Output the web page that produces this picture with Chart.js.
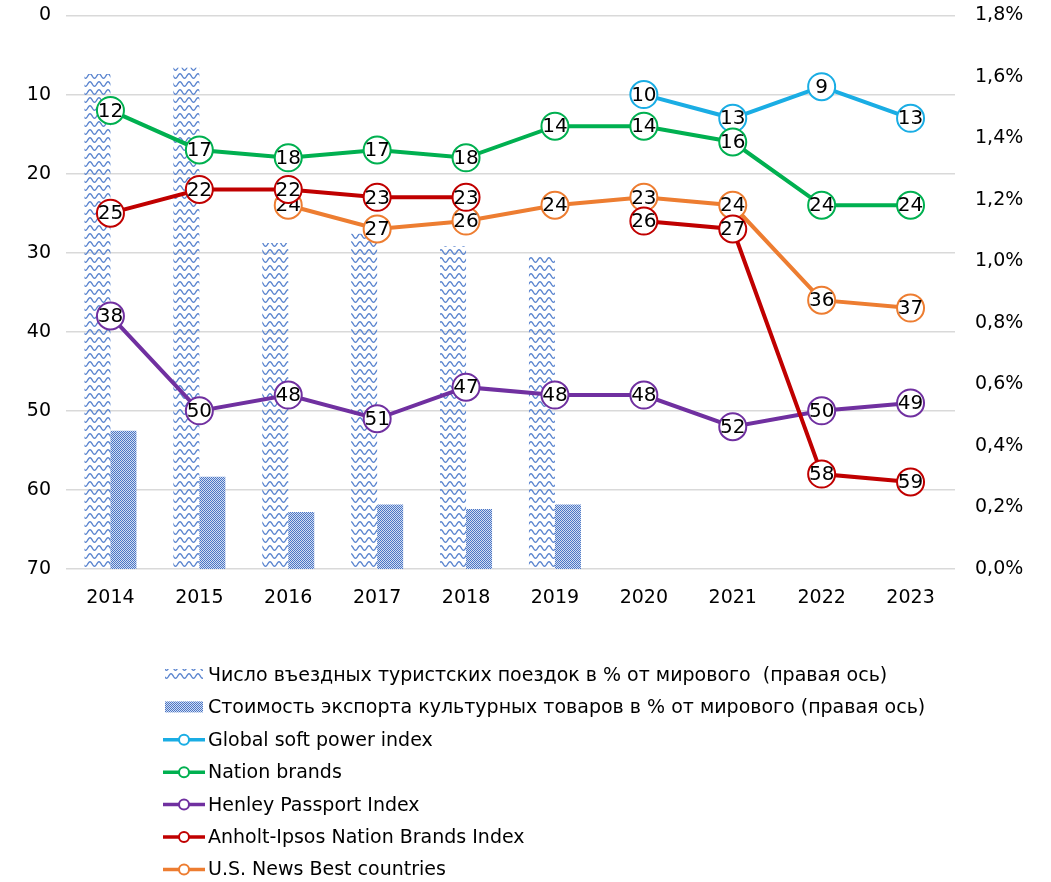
<!DOCTYPE html>
<html lang="ru">
<head>
<meta charset="utf-8">
<title>Индексы мягкой силы</title>
<script src="https://cdn.jsdelivr.net/npm/chart.js@4.4.1/dist/chart.umd.min.js"></script>
<style>
    html, body { margin: 0; padding: 0; background: #fff; }
    #wrap { position: relative; width: 1051px; height: 882px; }
</style>
</head>
<body>
<div id="wrap"><canvas id="softPowerChart"></canvas></div>
<script>
// Data
const years = ['2014', '2015', '2016', '2017', '2018', '2019', '2020', '2021', '2022', '2023'];

// right axis, % of world
const tourismShare = [1.61, 1.63, 1.06, 1.09, 1.05, 1.02, null, null, null, null];
const exportShare = [0.45, 0.30, 0.185, 0.21, 0.195, 0.21, null, null, null, null];

// left axis, rank (reversed)
const globalSoftPower = [null, null, null, null, null, null, 10, 13, 9, 13];
const nationBrands = [12, 17, 18, 17, 18, 14, 14, 16, 24, 24];
const henleyPassport = [38, 50, 48, 51, 47, 48, 48, 52, 50, 49];
const anholtIpsos = [25, 22, 22, 23, 23, null, 26, 27, 58, 59];
const usNewsBest = [null, null, 24, 27, 26, 24, 23, 24, 36, 37];

const rankTicks = { min: 0, max: 70, step: 10 };
const shareTicks = { min: 0, max: 1.8, step: 0.2 };

const FONT = "'DejaVu Sans', Verdana, sans-serif";

document.addEventListener('DOMContentLoaded', function() {
    // Excel-like fill patterns
    function wavePattern() {
        const c = document.createElement('canvas');
        c.width = 9; c.height = 8;
        const g = c.getContext('2d');
        g.strokeStyle = '#5b85cf';
        g.lineWidth = 1.4;
        g.beginPath();
        for (let x = -1; x <= 10; x += 0.5) {
            const y = 4 - 2.2 * Math.cos(2 * Math.PI * x / 9);
            if (x === -1) g.moveTo(x, y); else g.lineTo(x, y);
        }
        g.stroke();
        return g.createPattern(c, 'repeat');
    }

    function checkerPattern() {
        const c = document.createElement('canvas');
        c.width = 2; c.height = 2;
        const g = c.getContext('2d');
        g.fillStyle = '#d3ddf1';
        g.fillRect(0, 0, 2, 2);
        g.fillStyle = '#4a76c6';
        g.fillRect(0, 0, 1, 1);
        g.fillRect(1, 1, 1, 1);
        return g.createPattern(c, 'repeat');
    }

    const wave = wavePattern();
    const checker = checkerPattern();

    function lineSet(label, data, color, order) {
        return {
            type: 'line',
            label: label,
            data: data,
            yAxisID: 'y',
            borderColor: color,
            borderWidth: 4,
            pointRadius: 13.5,
            pointHoverRadius: 13.5,
            pointBorderWidth: 2,
            pointBackgroundColor: '#fff',
            pointBorderColor: color,
            tension: 0,
            spanGaps: false,
            order: order
        };
    }

    // Draws the value inside each marker
    const pointLabels = {
        id: 'pointLabels',
        afterDatasetDraw(chart, args) {
            const ds = chart.data.datasets[args.index];
            if (ds.type !== 'line') return;
            const ctx = chart.ctx;
            ctx.save();
            ctx.font = '20px ' + FONT;
            ctx.fillStyle = '#000';
            ctx.textAlign = 'center';
            ctx.textBaseline = 'middle';
            args.meta.data.forEach(function(pt, i) {
                const v = ds.data[i];
                if (v === null || v === undefined) return;
                ctx.fillText(String(v), pt.x, pt.y + 1);
            });
            ctx.restore();
        }
    };

    // Vertical legend under the plot
    const sideLegend = {
        id: 'sideLegend',
        afterDraw(chart) {
            const ctx = chart.ctx;
            const x0 = 163, x1 = 205, tx = 208;
            let y = 675;
            ctx.save();
            ctx.font = '19px ' + FONT;
            ctx.textBaseline = 'middle';
            ctx.textAlign = 'left';
            chart.data.datasets.forEach(function(ds) {
                if (ds.type === 'line') {
                    ctx.strokeStyle = ds.borderColor;
                    ctx.lineWidth = 3.5;
                    ctx.beginPath();
                    ctx.moveTo(x0, y);
                    ctx.lineTo(x1, y);
                    ctx.stroke();
                    ctx.beginPath();
                    ctx.arc((x0 + x1) / 2, y, 5, 0, Math.PI * 2);
                    ctx.fillStyle = '#fff';
                    ctx.fill();
                    ctx.lineWidth = 2;
                    ctx.stroke();
                } else {
                    ctx.fillStyle = ds.backgroundColor;
                    ctx.fillRect(x0 + 2, y - 6, x1 - x0 - 4, 11);
                }
                ctx.fillStyle = '#000';
                ctx.fillText(ds.label, tx, y + 1);
                y += 32.4;
            });
            ctx.restore();
        }
    };

    // keep the plot edges where the reference has them
    function fixVertical(width) {
        return function(scale) {
            scale.width = width;
            scale.paddingTop = 0;
            scale.paddingBottom = 0;
        };
    }

    const ctx = document.getElementById('softPowerChart');
    new Chart(ctx, {
        type: 'bar',
        data: {
            labels: years,
            datasets: [
                {
                    label: 'Число въездных туристских поездок в % от мирового  (правая ось)',
                    data: tourismShare,
                    yAxisID: 'y1',
                    backgroundColor: wave,
                    borderWidth: 0,
                    categoryPercentage: 0.585,
                    barPercentage: 1,
                    order: 9
                },
                {
                    label: 'Стоимость экспорта культурных товаров в % от мирового (правая ось)',
                    data: exportShare,
                    yAxisID: 'y1',
                    backgroundColor: checker,
                    borderWidth: 0,
                    categoryPercentage: 0.585,
                    barPercentage: 1,
                    order: 10
                },
                lineSet('Global soft power index', globalSoftPower, '#1AADE4', 4),
                lineSet('Nation brands', nationBrands, '#00B050', 3),
                lineSet('Henley Passport Index', henleyPassport, '#7030A0', 2),
                lineSet('Anholt-Ipsos Nation Brands Index', anholtIpsos, '#C00000', 0),
                lineSet('U.S. News Best countries', usNewsBest, '#ED7D31', 1)
            ]
        },
        options: {
            responsive: true,
            maintainAspectRatio: false,
            animation: false,
            layout: {
                padding: { top: 14, left: 0, right: 0, bottom: 268 }
            },
            plugins: {
                legend: { display: false },
                tooltip: { enabled: false }
            },
            scales: {
                x: {
                    grid: { display: false, drawTicks: false },
                    border: { display: false },
                    ticks: {
                        color: '#000',
                        padding: 18,
                        font: { family: FONT, size: 19 }
                    },
                    afterFit(scale) {
                        scale.height = 45;
                        scale.paddingLeft = 0;
                        scale.paddingRight = 0;
                    }
                },
                y: {
                    position: 'left',
                    reverse: true,
                    min: rankTicks.min,
                    max: rankTicks.max,
                    ticks: {
                        stepSize: rankTicks.step,
                        color: '#000',
                        padding: 15,
                        font: { family: FONT, size: 19 }
                    },
                    grid: { color: '#d9d9d9', lineWidth: 1.5, drawTicks: false },
                    border: { display: false },
                    afterFit: fixVertical(66)
                },
                y1: {
                    position: 'right',
                    min: shareTicks.min,
                    max: shareTicks.max,
                    ticks: {
                        stepSize: shareTicks.step,
                        color: '#000',
                        padding: 20,
                        font: { family: FONT, size: 19 },
                        callback: function(v) {
                            return v.toFixed(1).replace('.', ',') + '%';
                        }
                    },
                    grid: { display: false, drawTicks: false },
                    border: { display: false },
                    afterFit: fixVertical(96)
                }
            }
        },
        plugins: [pointLabels, sideLegend]
    });
});
</script>
</body>
</html>
